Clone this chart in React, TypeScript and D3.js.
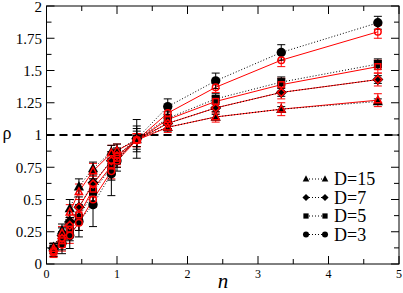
import * as d3 from 'd3';

// shared n grid
const nValues = [0.1, 0.22, 0.33, 0.46, 0.66, 0.92, 1.0, 1.28, 1.72, 2.4, 3.33, 4.7];

const seriesNames = ['D=15', 'D=7', 'D=5', 'D=3'];
const markerShapes = ['triangle', 'diamond', 'square', 'circle'];

// black (filled markers, dotted line)
const blackD15 = [0.13, 0.26, 0.43, 0.6, 0.74, 0.87, 0.88, 0.97, 1.06, 1.14, 1.2, 1.26];
const blackD7 = [0.12, 0.22, 0.33, 0.44, 0.63, 0.8, 0.84, 0.97, 1.09, 1.21, 1.33, 1.43];
const blackD5 = [0.12, 0.18, 0.27, 0.36, 0.56, 0.75, 0.82, 0.97, 1.13, 1.28, 1.41, 1.55];
const blackD3 = [0.11, 0.16, 0.22, 0.33, 0.46, 0.7, 0.8, 0.97, 1.22, 1.42, 1.64, 1.87];
const blackErrD15 = [0.03, 0.05, 0.07, 0.06, 0.05, 0.05, 0.05, 0.06, 0.03, 0.02, 0.02, 0.02];
const blackErrD7 = [0.04, 0.06, 0.08, 0.08, 0.08, 0.07, 0.06, 0.08, 0.04, 0.03, 0.03, 0.03];
const blackErrD5 = [0.04, 0.07, 0.09, 0.1, 0.1, 0.1, 0.07, 0.1, 0.05, 0.04, 0.04, 0.04];
const blackErrD3 = [0.05, 0.08, 0.1, 0.12, 0.17, 0.17, 0.08, 0.15, 0.06, 0.06, 0.06, 0.05];

// red (open markers, solid line)
const redD15 = [0.12, 0.24, 0.4, 0.56, 0.72, 0.86, 0.88, 0.96, 1.06, 1.14, 1.2, 1.27];
const redD7 = [0.1, 0.2, 0.3, 0.44, 0.62, 0.8, 0.84, 0.96, 1.09, 1.21, 1.33, 1.43];
const redD5 = [0.1, 0.18, 0.27, 0.38, 0.58, 0.76, 0.82, 0.96, 1.12, 1.26, 1.39, 1.53];
const redD3 = [0.09, 0.15, 0.22, 0.32, 0.5, 0.72, 0.8, 0.96, 1.17, 1.37, 1.58, 1.8];
const redErr = [0.04, 0.05, 0.06, 0.06, 0.06, 0.06, 0.05, 0.05, 0.04, 0.04, 0.05, 0.05];

const xTicks = [0, 1, 2, 3, 4, 5];
const xMinor = [0.5, 1.5, 2.5, 3.5, 4.5];
const yTicks = [0, 0.25, 0.5, 0.75, 1, 1.25, 1.5, 1.75, 2];
const yTickLabels = ['0', '0.25', '0.5', '0.75', '1', '1.25', '1.5', '1.75', '2'];
const yMinor = [0.125, 0.375, 0.625, 0.875, 1.125, 1.375, 1.625, 1.875];

const W = 403;
const H = 293;
const left = 46.5;
const right = 399;
const top = 6;
const bottom = 264;

const x = d3.scaleLinear().domain([0, 5]).range([left, right]);
const y = d3.scaleLinear().domain([0, 2]).range([bottom, top]);

const blackSeries = [blackD15, blackD7, blackD5, blackD3];
const blackErrs = [blackErrD15, blackErrD7, blackErrD5, blackErrD3];
const redSeries = [redD15, redD7, redD5, redD3];

const serif = "'Liberation Serif', 'Times New Roman', serif";

function Marker({ shape, cx, cy, size, fill, stroke, sw }: any) {
  if (shape === 'circle') {
    return <circle cx={cx} cy={cy} r={size * 0.55} fill={fill} stroke={stroke} strokeWidth={sw} />;
  }
  if (shape === 'square') {
    const s = size * 0.95;
    return <rect x={cx - s / 2} y={cy - s / 2} width={s} height={s} fill={fill} stroke={stroke} strokeWidth={sw} />;
  }
  if (shape === 'diamond') {
    const s = size * 0.65;
    return (
      <path
        d={`M${cx},${cy - s}L${cx + s},${cy}L${cx},${cy + s}L${cx - s},${cy}Z`}
        fill={fill}
        stroke={stroke}
        strokeWidth={sw}
      />
    );
  }
  const s = size * 0.6;
  return (
    <path
      d={`M${cx},${cy - s * 1.1}L${cx + s},${cy + s * 0.75}L${cx - s},${cy + s * 0.75}Z`}
      fill={fill}
      stroke={stroke}
      strokeWidth={sw}
    />
  );
}

function ErrorBars({ values, errs, color }: any) {
  return (
    <g stroke={color} strokeWidth={1}>
      {values.map((v: number, i: number) => {
        const px = x(nValues[i]);
        const y0 = y(v - errs[i]);
        const y1 = y(v + errs[i]);
        return (
          <g key={i}>
            <line x1={px} x2={px} y1={y0} y2={y1} />
            <line x1={px - 4} x2={px + 4} y1={y0} y2={y0} />
            <line x1={px - 4} x2={px + 4} y1={y1} y2={y1} />
          </g>
        );
      })}
    </g>
  );
}

export default function App() {
  const line = d3
    .line<number>()
    .x((_, i) => x(nValues[i]))
    .y((d) => y(d));

  return (
    <svg width={W} height={H} style={{ position: 'absolute', left: 0, top: 0 }}>
      <rect width={W} height={H} fill="#fff" />

      {/* dashed reference line */}
      <line x1={left} x2={right} y1={y(1)} y2={y(1)} stroke="#000" strokeWidth={2} strokeDasharray="8,5" />

      {/* red series */}
      {redSeries.map((vals, k) => (
        <g key={'r' + k}>
          <ErrorBars values={vals} errs={redErr} color="#ff0000" />
          <path d={line(vals) || ''} fill="none" stroke="#ff0000" strokeWidth={1} />
        </g>
      ))}

      {/* black series */}
      {blackSeries.map((vals, k) => (
        <g key={'b' + k}>
          <ErrorBars values={vals} errs={blackErrs[k]} color="#000" />
          <path d={line(vals) || ''} fill="none" stroke="#000" strokeWidth={1} strokeDasharray="1,2" />
        </g>
      ))}

      {blackSeries.map((vals, k) => (
        <g key={'bm' + k}>
          {vals.map((v, i) => (
            <Marker key={i} shape={markerShapes[k]} cx={x(nValues[i])} cy={y(v)} size={8.5} fill="#000" stroke="none" sw={0} />
          ))}
        </g>
      ))}
      {redSeries.map((vals, k) => (
        <g key={'rm' + k}>
          {vals.map((v, i) => (
            <Marker key={i} shape={markerShapes[k]} cx={x(nValues[i])} cy={y(v)} size={6} fill="none" stroke="#ff0000" sw={1.5} />
          ))}
        </g>
      ))}

      {/* frame */}
      <rect x={left} y={top} width={right - left} height={bottom - top} fill="none" stroke="#000" strokeWidth={1} />

      {/* ticks */}
      <g stroke="#000" strokeWidth={1}>
        {xTicks.map((t) => (
          <g key={'xt' + t}>
            <line x1={x(t)} x2={x(t)} y1={bottom} y2={bottom - 8} />
            <line x1={x(t)} x2={x(t)} y1={top} y2={top + 8} />
          </g>
        ))}
        {xMinor.map((t) => (
          <g key={'xm' + t}>
            <line x1={x(t)} x2={x(t)} y1={bottom} y2={bottom - 5} />
            <line x1={x(t)} x2={x(t)} y1={top} y2={top + 5} />
          </g>
        ))}
        {yTicks.map((t) => (
          <g key={'yt' + t}>
            <line x1={left} x2={left + 8} y1={y(t)} y2={y(t)} />
            <line x1={right} x2={right - 8} y1={y(t)} y2={y(t)} />
          </g>
        ))}
        {yMinor.map((t) => (
          <g key={'ym' + t}>
            <line x1={left} x2={left + 5} y1={y(t)} y2={y(t)} />
            <line x1={right} x2={right - 5} y1={y(t)} y2={y(t)} />
          </g>
        ))}
      </g>

      {/* tick labels */}
      <g fill="#000" style={{ fontFamily: serif }}>
        {xTicks.map((t) => (
          <text key={'xl' + t} x={x(t)} y={278} fontSize={12} textAnchor="middle" style={{ fontFamily: serif }}>
            {t}
          </text>
        ))}
        {yTicks.map((t, i) => (
          <text key={'yl' + t} x={42} y={y(t) + (t === 2 ? 1 : 0)} dy="0.35em" fontSize={15} textAnchor="end" style={{ fontFamily: serif }}>
            {yTickLabels[i]}
          </text>
        ))}
        <text x={7} y={139} fontSize={18} textAnchor="middle" style={{ fontFamily: serif }}>ρ</text>
        <text x={223} y={288} fontSize={21} fontStyle="italic" textAnchor="middle" style={{ fontFamily: serif }}>n</text>
      </g>

      {/* legend */}
      <g>
        {seriesNames.map((name, k) => {
          const ly = 179 + k * 18.5;
          return (
            <g key={name}>
              <line x1={306} x2={325} y1={ly} y2={ly} stroke="#000" strokeWidth={1} strokeDasharray="1,2" />
              <Marker shape={markerShapes[k]} cx={306} cy={ly} size={5.5} fill="#000" stroke="none" sw={0} />
              <Marker shape={markerShapes[k]} cx={325} cy={ly} size={5.5} fill="#000" stroke="none" sw={0} />
              <text x={334} y={ly + 6} fontSize={18} fill="#000" style={{ fontFamily: serif }}>
                {name}
              </text>
            </g>
          );
        })}
      </g>
    </svg>
  );
}
